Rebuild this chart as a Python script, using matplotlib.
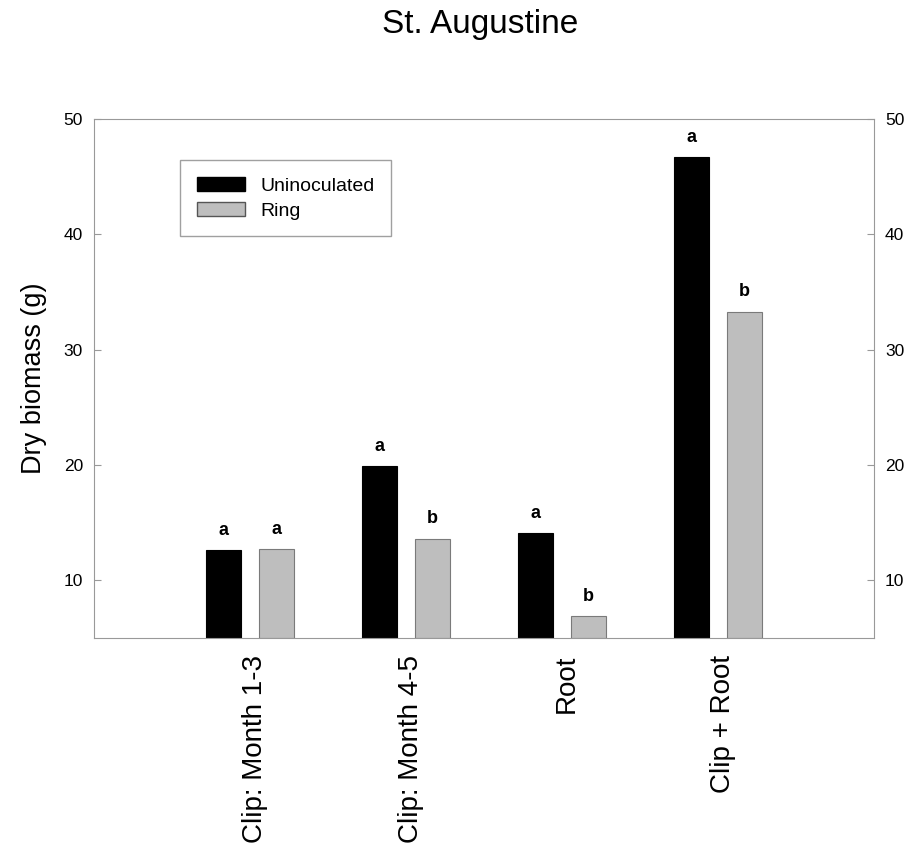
import matplotlib.pyplot as plt
import matplotlib.transforms as mtransforms
import numpy as np
from matplotlib.patches import Patch

plt.rcParams['font.family'] = ['Liberation Sans', 'DejaVu Sans']

# Values
categories = ['Clip: Month 1-3', 'Clip: Month 4-5', 'Root', 'Clip + Root']
uninoculated = [12.6, 19.9, 14.1, 46.7]
ring = [12.7, 13.6, 6.9, 33.3]
letters_unin = ['a', 'a', 'a', 'a']
letters_ring = ['a', 'b', 'b', 'b']

fig = plt.figure(figsize=(9.14, 8.56), dpi=100)
ax = fig.add_axes([94 / 914, 1 - 638 / 856, 780 / 914, 519 / 856])

x = np.arange(len(categories))
w = 0.22
off = 0.17
ax.bar(x - off, np.array(uninoculated) - 5, w, bottom=5, color='black', edgecolor='black', linewidth=0.8)
ax.bar(x + off, np.array(ring) - 5, w, bottom=5, color='#bebebe', edgecolor='#7a7a7a', linewidth=0.8)

# significance letters
for i in range(len(categories)):
    ax.text(x[i] - off, uninoculated[i] + 1.0, letters_unin[i], ha='center', va='bottom',
            fontsize=13, fontweight='bold')
    ax.text(x[i] + off, ring[i] + 1.0, letters_ring[i], ha='center', va='bottom',
            fontsize=13, fontweight='bold')

ax.set_xlim(-1, 4)
ax.set_ylim(5, 50)
ax.set_yticks([10, 20, 30, 40, 50])
ax.set_xticks(x)
ax.set_xticklabels(categories, rotation=90, fontsize=20)
ax.tick_params(axis='x', length=0, pad=12)
shift = mtransforms.ScaledTranslation(5 / 100, 0, fig.dpi_scale_trans)
for lab in ax.get_xticklabels():
    lab.set_transform(lab.get_transform() + shift)
ax.tick_params(axis='y', direction='in', length=5, color='#999999', labelsize=12.5,
               right=True, labelright=True, pad=8)
for s in ax.spines.values():
    s.set_color('#999999')

ax.set_ylabel('Dry biomass (g)', fontsize=19.5, labelpad=12)
fig.text(480 / 914, 1 - 33 / 856, 'St. Augustine', fontsize=24, ha='center', va='baseline')

handles = [Patch(facecolor='black', edgecolor='black'),
           Patch(facecolor='#bebebe', edgecolor='#555555')]
leg = ax.legend(handles, ['Uninoculated', 'Ring'] , loc='upper left',
                bbox_to_anchor=(86 / 780, 1 - 41 / 519), fontsize=14,
                fancybox=False, edgecolor='#888888', handlelength=2.5,
                handleheight=0.8, labelspacing=0.35, borderpad=0.85,
                handletextpad=0.8, borderaxespad=0)
leg.get_frame().set_linewidth(1.0)

plt.savefig('out.png', dpi=100)
